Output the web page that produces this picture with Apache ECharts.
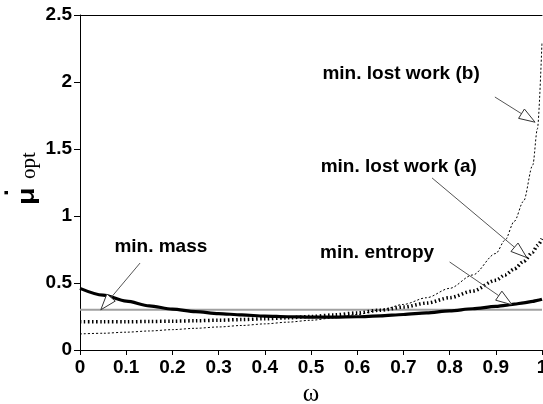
<!DOCTYPE html>
<html>
<head>
<meta charset="utf-8">
<script src="https://cdn.jsdelivr.net/npm/echarts@6/dist/echarts.min.js"></script>
<style>html,body{margin:0;padding:0;background:#fff;}#c{width:543px;height:404px;}</style>
</head>
<body>
<div id="c"></div>
<script>
// omega grid
var omega      = [0, 0.05, 0.1, 0.15, 0.2, 0.25, 0.3, 0.35, 0.4, 0.45, 0.5, 0.55, 0.6, 0.65, 0.7, 0.75, 0.8, 0.85, 0.9, 0.92, 0.94, 0.96, 0.98, 0.99, 1.0];
// min. entropy (thick solid)
var entropy    = [0.46, 0.41, 0.365, 0.33, 0.305, 0.287, 0.272, 0.262, 0.253, 0.248, 0.245, 0.245, 0.248, 0.255, 0.265, 0.277, 0.292, 0.308, 0.325, 0.333, 0.342, 0.352, 0.363, 0.37, 0.378];
// min. lost work (a) (thick dotted)
var lostWorkA  = [0.21, 0.21, 0.21, 0.213, 0.215, 0.218, 0.222, 0.227, 0.233, 0.24, 0.25, 0.262, 0.277, 0.297, 0.32, 0.35, 0.39, 0.44, 0.52, 0.56, 0.605, 0.66, 0.73, 0.78, 0.83];
// min. lost work (b) (thin dotted)
var lostWorkB  = [0.12, 0.125, 0.133, 0.142, 0.152, 0.162, 0.172, 0.183, 0.195, 0.208, 0.222, 0.24, 0.265, 0.298, 0.34, 0.39, 0.46, 0.56, 0.72, 0.82, 0.96, 1.11, 1.38, 1.65, 2.3];
// min. mass (constant grey line)
var massOmega  = [0, 1];
var mass       = [0.3, 0.3];
// axis ticks
var xTicks = ['0','0.1','0.2','0.3','0.4','0.5','0.6','0.7','0.8','0.9','1'];
var yTicks = ['0','0.5','1','1.5','2','2.5'];
// annotations: label, label position, arrow start, arrow tip (data coords)
var annLabels = ['min. mass', 'min. entropy', 'min. lost work (a)', 'min. lost work (b)'];
var annText   = [[0.175, 0.77], [0.643, 0.724], [0.69, 1.37], [0.695, 2.06]];
var annFrom   = [[0.130, 0.649], [0.80, 0.657], [0.762, 1.284], [0.898, 1.888]];
var annTip    = [[0.045, 0.30], [0.935, 0.338], [0.967, 0.69], [0.985, 1.70]];

function pairs(xs, ys) { return xs.map(function (x, i) { return [x, ys[i]]; }); }

var chart = echarts.init(document.getElementById('c'), null, {renderer: 'canvas'});
var labelFont = {fontFamily: '"Liberation Sans", Arial, sans-serif', fontWeight: 'bold', fontSize: 19, color: '#000'};
var option = {
  animation: false,
  backgroundColor: '#fff',
  grid: {left: 80, right: 1, top: 15, bottom: 54, containLabel: false, outerBoundsMode: 'none'},
  xAxis: [{
    type: 'value', min: 0, max: 1, interval: 0.1,
    axisLine: {show: true, lineStyle: {color: '#000', width: 1}},
    axisTick: {show: true, length: 5, lineStyle: {color: '#000'}},
    splitLine: {show: false},
    axisLabel: Object.assign({margin: 8, formatter: function (v) { return xTicks[Math.round(v * 10)]; }}, labelFont),
    name: 'ω', nameLocation: 'middle', nameGap: 29,
    nameTextStyle: {fontFamily: '"Liberation Serif", "DejaVu Serif", serif', fontSize: 25, color: '#000'}
  }, {
    type: 'value', min: 0, max: 1, position: 'top',
    axisLine: {show: true, lineStyle: {color: '#000', width: 1}},
    axisTick: {show: false}, axisLabel: {show: false}, splitLine: {show: false}
  }],
  yAxis: {
    type: 'value', min: 0, max: 2.5, interval: 0.5,
    axisLine: {show: true, lineStyle: {color: '#000', width: 1}},
    axisTick: {show: true, length: 6, lineStyle: {color: '#000'}},
    splitLine: {show: false},
    axisLabel: Object.assign({margin: 8, formatter: function (v) { return yTicks[Math.round(v * 2)]; }}, labelFont)
  },
  series: [
    {type: 'line', name: 'min. mass', data: pairs(massOmega, mass), showSymbol: false, symbol: 'none',
     lineStyle: {color: '#a0a0a0', width: 2}, z: 2},
    {type: 'line', name: 'min. lost work (b)', data: pairs(omega, lostWorkB), symbol: 'none', smooth: 0.3, smoothMonotone: 'x',
     lineStyle: {color: '#000', width: 1, type: [2, 2]}, z: 3},
    {type: 'line', name: 'min. lost work (a)', data: pairs(omega, lostWorkA), symbol: 'none', smooth: 0.3, smoothMonotone: 'x',
     lineStyle: {color: '#000', width: 3.5, type: [1.5, 2.5]}, z: 3},
    {type: 'line', name: 'min. entropy', data: pairs(omega, entropy), symbol: 'none', smooth: 0.3, smoothMonotone: 'x',
     lineStyle: {color: '#000', width: 3.2}, z: 4}
  ]
};
chart.setOption(option);

var graphics = [];
annLabels.forEach(function (lab, i) {
  var tp = chart.convertToPixel({gridIndex: 0}, annText[i]);
  var s = chart.convertToPixel({gridIndex: 0}, annFrom[i]);
  var t = chart.convertToPixel({gridIndex: 0}, annTip[i]);
  var dx = t[0] - s[0], dy = t[1] - s[1];
  var len = Math.sqrt(dx * dx + dy * dy);
  var ux = dx / len, uy = dy / len;
  var L = 16, W = 5.5;
  var bx = t[0] - ux * L, by = t[1] - uy * L;
  var nx = -uy, ny = ux;
  graphics.push({type: 'text', x: tp[0], y: tp[1], z: 10,
    style: {text: lab, font: 'bold 19px "Liberation Sans", Arial, sans-serif', fill: '#000', align: 'center', verticalAlign: 'middle'}});
  graphics.push({type: 'line', z: 10, shape: {x1: s[0], y1: s[1], x2: bx, y2: by}, style: {stroke: '#555', lineWidth: 1}});
  graphics.push({type: 'polygon', z: 11, shape: {points: [[t[0], t[1]], [bx + nx * W, by + ny * W], [bx - nx * W, by - ny * W]]},
    style: {fill: '#fff', stroke: '#333', lineWidth: 1}});
});
// y-axis title: mu-dot with subscript opt, rotated
graphics.push({type: 'group', x: 39, y: 205, rotation: Math.PI / 2, z: 10, children: [
  {type: 'text', x: 0, y: 0, scaleX: 1.2, style: {text: 'μ', font: 'bold 24px "Liberation Sans", Arial, sans-serif', fill: '#000', align: 'left', verticalAlign: 'bottom'}},
  {type: 'text', x: 9, y: -20, style: {text: '·', font: 'bold 24px "Liberation Sans", Arial, sans-serif', fill: '#000', align: 'left', verticalAlign: 'bottom'}},
  {type: 'text', x: 26, y: 1, style: {text: 'opt', font: '21px "Liberation Serif", "DejaVu Serif", serif', fill: '#000', align: 'left', verticalAlign: 'bottom'}}
]});
chart.setOption({graphic: graphics});
</script>
</body>
</html>
